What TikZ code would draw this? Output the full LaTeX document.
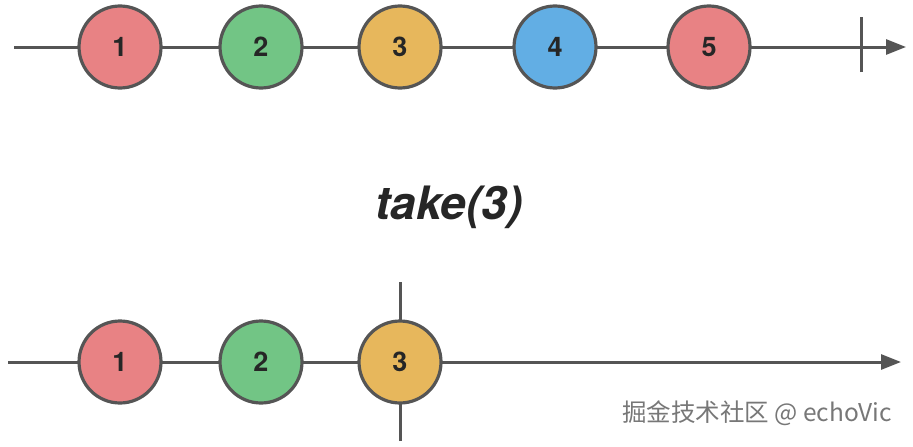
\documentclass[tikz,border=0pt]{standalone}
\usepackage{fontspec}
\setsansfont{TeX Gyre Heros}
\newfontfamily\cjkfont{Noto Sans CJK SC}
\usetikzlibrary{arrows.meta}
\definecolor{linegray}{HTML}{555555}
\definecolor{marblered}{HTML}{E88284}
\definecolor{marblegreen}{HTML}{72C585}
\definecolor{marbleyellow}{HTML}{E7B75C}
\definecolor{marbleblue}{HTML}{62AEE4}
\definecolor{markgray}{HTML}{777777}

\begin{document}
\begin{tikzpicture}[x=1pt,y=-1pt,
  timeline/.style={line width=3pt,linegray,-{Triangle[length=20pt,width=15pt]}},
  marble/.style={circle,draw=linegray,line width=3.2pt,minimum size=82pt,inner sep=0pt,
    font=\sffamily\bfseries\fontsize{27}{27}\selectfont,text=black!85}]
  \useasboundingbox (0,0) rectangle (913,447);
  % source stream
  \coordinate (tstart) at (14,47);
  \coordinate (tend) at (906,47);
  \draw[timeline] (tstart) -- (tend);
  \node[marble,fill=marblered] (t1) at (120,47) {1};
  \node[marble,fill=marblegreen] (t2) at (261,47) {2};
  \node[marble,fill=marbleyellow] (t3) at (400,47) {3};
  \node[marble,fill=marbleblue] (t4) at (555,47) {4};
  \node[marble,fill=marblered] (t5) at (709,47) {5};
  \coordinate (tcomplete) at (861,47);
  \draw[line width=3pt,linegray] ([yshift=-25pt]tcomplete) -- ([yshift=30pt]tcomplete);
  % operator
  \node[font=\sffamily\bfseries\itshape\fontsize{46}{46}\selectfont,text=black!85] (op) at (449,207) {take(3)};
  % result stream
  \coordinate (bstart) at (8,362);
  \coordinate (bend) at (901,362);
  \draw[timeline] (bstart) -- (bend);
  \coordinate (bcomplete) at (400,362);
  \draw[line width=3pt,linegray] ([yshift=-79pt]bcomplete) -- ([yshift=80pt]bcomplete);
  \node[marble,fill=marblered] (b1) at (120,362) {1};
  \node[marble,fill=marblegreen] (b2) at (261,362) {2};
  \node[marble,fill=marbleyellow] (b3) at (bcomplete) {3};
  % watermark
  \node[font=\fontsize{24.5}{24.5}\selectfont,text=markgray] (mark) at (757,413) {\cjkfont 掘金技术社区 @ echoVic};
\end{tikzpicture}
\end{document}
